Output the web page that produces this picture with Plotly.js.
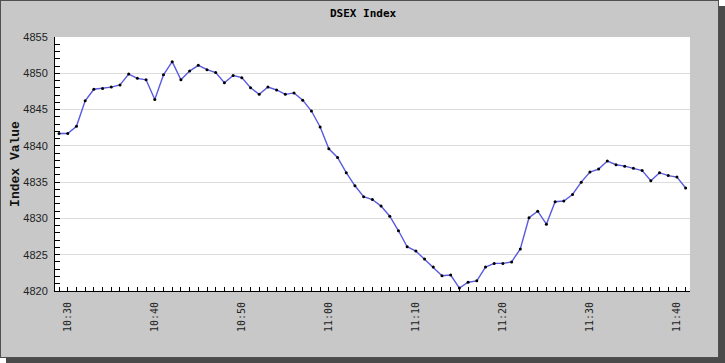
<!DOCTYPE html>
<html>
<head>
<meta charset="utf-8">
<script src="https://cdn.plot.ly/plotly-3.0.1.min.js"></script>
<style>
  html, body { margin: 0; padding: 0; background: #ffffff; width: 725px; height: 363px; overflow: hidden; }
  #panel { position: absolute; left: 0; top: 0; width: 717px; height: 356px; border: 1px solid #505050; box-shadow: 6px 6px 0 #4a4a4a; background: #c8c8c8; }
  #chart { width: 717px; height: 356px; }
</style>
</head>
<body>
<div id="panel"><div id="chart"></div></div>
<script>
const times = [
  "2024-01-01 10:29","2024-01-01 10:30","2024-01-01 10:31","2024-01-01 10:32","2024-01-01 10:33","2024-01-01 10:34",
  "2024-01-01 10:35","2024-01-01 10:36","2024-01-01 10:37","2024-01-01 10:38","2024-01-01 10:39","2024-01-01 10:40",
  "2024-01-01 10:41","2024-01-01 10:42","2024-01-01 10:43","2024-01-01 10:44","2024-01-01 10:45","2024-01-01 10:46",
  "2024-01-01 10:47","2024-01-01 10:48","2024-01-01 10:49","2024-01-01 10:50","2024-01-01 10:51","2024-01-01 10:52",
  "2024-01-01 10:53","2024-01-01 10:54","2024-01-01 10:55","2024-01-01 10:56","2024-01-01 10:57","2024-01-01 10:58",
  "2024-01-01 10:59","2024-01-01 11:00","2024-01-01 11:01","2024-01-01 11:02","2024-01-01 11:03","2024-01-01 11:04",
  "2024-01-01 11:05","2024-01-01 11:06","2024-01-01 11:07","2024-01-01 11:08","2024-01-01 11:09","2024-01-01 11:10",
  "2024-01-01 11:11","2024-01-01 11:12","2024-01-01 11:13","2024-01-01 11:14","2024-01-01 11:15","2024-01-01 11:16",
  "2024-01-01 11:17","2024-01-01 11:18","2024-01-01 11:19","2024-01-01 11:20","2024-01-01 11:21","2024-01-01 11:22",
  "2024-01-01 11:23","2024-01-01 11:24","2024-01-01 11:25","2024-01-01 11:26","2024-01-01 11:27","2024-01-01 11:28",
  "2024-01-01 11:29","2024-01-01 11:30","2024-01-01 11:31","2024-01-01 11:32","2024-01-01 11:33","2024-01-01 11:34",
  "2024-01-01 11:35","2024-01-01 11:36","2024-01-01 11:37","2024-01-01 11:38","2024-01-01 11:39","2024-01-01 11:40",
  "2024-01-01 11:41"
];
const indexValues = [
  4841.7, 4841.7, 4842.7, 4846.2, 4847.8, 4847.9,
  4848.1, 4848.4, 4849.9, 4849.3, 4849.1, 4846.4,
  4849.8, 4851.6, 4849.1, 4850.3, 4851.1, 4850.5,
  4850.1, 4848.7, 4849.7, 4849.4, 4848.0, 4847.1,
  4848.1, 4847.7, 4847.1, 4847.3, 4846.3, 4844.8,
  4842.6, 4839.6, 4838.4, 4836.3, 4834.5, 4833.0,
  4832.6, 4831.7, 4830.3, 4828.3, 4826.1, 4825.5,
  4824.4, 4823.3, 4822.1, 4822.2, 4820.4, 4821.2,
  4821.4, 4823.3, 4823.8, 4823.8, 4824.0, 4825.8,
  4830.1, 4831.0, 4829.2, 4832.3, 4832.4, 4833.3,
  4835.0, 4836.4, 4836.8, 4837.9, 4837.4, 4837.2,
  4836.9, 4836.6, 4835.2, 4836.3, 4835.9, 4835.7,
  4834.2
];
const chartTitle = "DSEX Index";
const yTitle = "Index Value";

const trace = {
  x: times,
  y: indexValues,
  type: "scatter",
  mode: "lines+markers",
  line: { color: "#5a5ae0", width: 1.4 },
  marker: { color: "#000000", size: 3 },
  hoverinfo: "x+y"
};

const layout = {
  width: 717,
  height: 356,
  paper_bgcolor: "#c8c8c8",
  plot_bgcolor: "#ffffff",
  showlegend: false,
  margin: { l: 54, r: 28, t: 36, b: 66 },
  title: {
    text: "<b>" + chartTitle + "</b>",
    font: { family: "DejaVu Sans Mono", size: 11, color: "#000000" },
    x: 0.505, xref: "container", xanchor: "center",
    y: 0.966, yref: "container", yanchor: "middle"
  },
  xaxis: {
    type: "date",
    range: ["2024-01-01 10:28:32", "2024-01-01 11:41:30"],
    tick0: "2024-01-01 10:30",
    dtick: 600000,
    tickformat: "%H:%M",
    tickangle: -90,
    ticks: "inside",
    ticklen: 4,
    tickcolor: "#000000",
    minor: { dtick: 60000, ticks: "inside", ticklen: 4, tickcolor: "#000000" },
    showline: true,
    linecolor: "#000000",
    linewidth: 1,
    showgrid: false,
    zeroline: false,
    tickfont: { family: "DejaVu Sans Mono", size: 10, color: "#222222" },
    ticklabelstandoff: 6
  },
  yaxis: {
    range: [4820, 4855],
    dtick: 5,
    tick0: 4820,
    ticks: "inside",
    ticklen: 5,
    tickcolor: "#000000",
    minor: { dtick: 1, ticks: "inside", ticklen: 5, tickcolor: "#000000", showgrid: false },
    showline: true,
    linecolor: "#000000",
    linewidth: 1,
    showgrid: true,
    gridcolor: "#dcdcdc",
    gridwidth: 1,
    zeroline: false,
    tickfont: { family: "Liberation Sans", size: 11, color: "#222222" },
    ticklabelstandoff: 4,
    title: {
      text: "<b>" + yTitle + "</b>",
      font: { family: "Liberation Mono", size: 13, color: "#111111" },
      standoff: 0
    }
  }
};

Plotly.newPlot("chart", [trace], layout, { displayModeBar: false, staticPlot: true });
</script>
</body>
</html>
